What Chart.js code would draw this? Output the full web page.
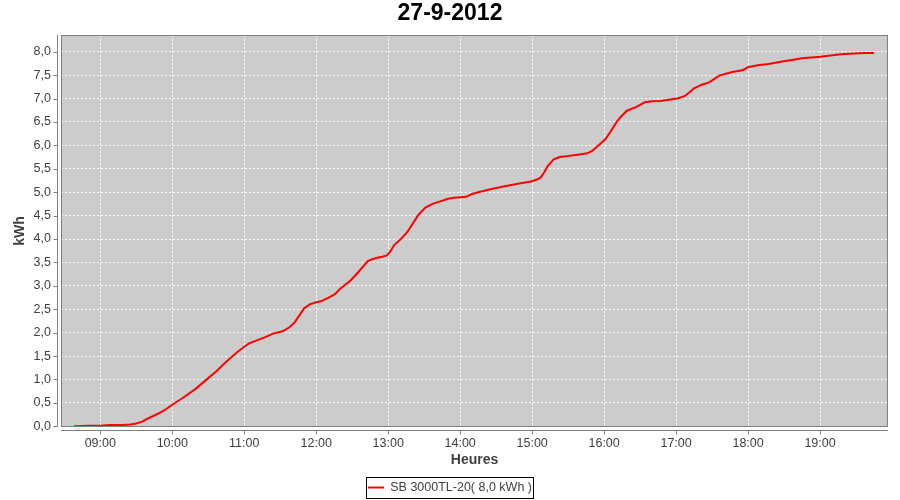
<!DOCTYPE html>
<html>
<head>
<meta charset="utf-8">
<script src="https://cdn.jsdelivr.net/npm/chart.js@4.4.0/dist/chart.umd.min.js"></script>
<style>
  html, body { margin: 0; padding: 0; background: #fff; }
</style>
</head>
<body>
<canvas id="chart" width="900" height="500"></canvas>
<script>
// chart text
const chartTitle = "27-9-2012";
const seriesName = "SB 3000TL-20( 8,0 kWh )";
const xTitle = "Heures";
const yTitle = "kWh";

// readings (time of day, cumulative kWh)
const times = [
  "08:38", "08:50", "09:00", "09:08", "09:18", "09:25", "09:30", "09:35", "09:39", "09:45",
  "09:50", "09:55", "10:00", "10:09", "10:20", "10:31", "10:37", "10:43", "10:49", "10:54",
  "11:00", "11:04", "11:10", "11:17", "11:24", "11:32", "11:38", "11:42", "11:46", "11:50",
  "11:55", "12:00", "12:04", "12:12", "12:16", "12:20", "12:28", "12:35", "12:43", "12:49",
  "12:55", "12:59", "13:02", "13:05", "13:11", "13:16", "13:21", "13:25", "13:31", "13:37",
  "13:44", "13:50", "13:55", "14:05", "14:10", "14:15", "14:28", "14:34", "14:48", "14:59",
  "15:04", "15:07", "15:10", "15:13", "15:18", "15:23", "15:29", "15:38", "15:46", "15:50",
  "15:54", "16:01", "16:05", "16:08", "16:11", "16:14", "16:19", "16:27", "16:34", "16:40",
  "16:47", "16:55", "17:01", "17:07", "17:11", "17:15", "17:21", "17:28", "17:32", "17:36",
  "17:46", "17:56", "18:00", "18:08", "18:17", "18:24", "18:31", "18:38", "18:45", "19:00",
  "19:12", "19:20", "19:29", "19:37", "19:45"
];
const energy = [
  0.00, 0.01, 0.01, 0.03, 0.03, 0.04, 0.06, 0.10, 0.16, 0.23,
  0.29, 0.37, 0.46, 0.61, 0.81, 1.05, 1.18, 1.33, 1.47, 1.58,
  1.70, 1.77, 1.83, 1.90, 1.98, 2.03, 2.12, 2.22, 2.37, 2.52,
  2.61, 2.65, 2.67, 2.77, 2.83, 2.94, 3.10, 3.29, 3.53, 3.59,
  3.62, 3.65, 3.74, 3.87, 4.01, 4.15, 4.35, 4.51, 4.67, 4.75,
  4.81, 4.86, 4.88, 4.90, 4.96, 5.00, 5.08, 5.11, 5.18, 5.23,
  5.27, 5.31, 5.42, 5.56, 5.70, 5.75, 5.77, 5.80, 5.83, 5.88,
  5.97, 6.13, 6.28, 6.40, 6.52, 6.61, 6.74, 6.82, 6.92, 6.94,
  6.95, 6.98, 7.00, 7.05, 7.13, 7.22, 7.29, 7.35, 7.42, 7.49,
  7.56, 7.61, 7.67, 7.71, 7.74, 7.77, 7.80, 7.83, 7.86, 7.89,
  7.93, 7.95, 7.96, 7.97, 7.97
];

// axis ticks
const hourTicks = [9, 10, 11, 12, 13, 14, 15, 16, 17, 18, 19];
const kwhTicks = [0, 0.5, 1, 1.5, 2, 2.5, 3, 3.5, 4, 4.5, 5, 5.5, 6, 6.5, 7, 7.5, 8];

function toHours(t) {
  const parts = t.split(":");
  return Number(parts[0]) + Number(parts[1]) / 60;
}
function hourLabel(h) {
  return String(h).padStart(2, "0") + ":00";
}

const points = times.map((t, i) => ({ x: toHours(t), y: energy[i] }));

const FONT = "'Liberation Sans', Arial, sans-serif";
const AXIS_GRAY = "#808080";

// grey plot area, outline, and axes drawn a few px away from the plot (JFreeChart look)
const plotFrame = {
  id: "plotFrame",
  beforeDraw(chart) {
    const a = chart.chartArea;
    const ctx = chart.ctx;
    ctx.save();
    ctx.fillStyle = "#cccccc";
    ctx.fillRect(a.left, a.top, a.right - a.left, a.bottom - a.top);
    ctx.restore();
  },
  afterDraw(chart) {
    const a = chart.chartArea;
    const ctx = chart.ctx;
    const xs = chart.scales.x;
    const ys = chart.scales.y;
    ctx.save();
    ctx.strokeStyle = AXIS_GRAY;
    ctx.lineWidth = 1;
    ctx.strokeRect(a.left + 0.5, a.top + 0.5, a.right - a.left - 1, a.bottom - a.top - 1);

    // y axis
    const axX = a.left - 3.5;
    ctx.beginPath();
    ctx.moveTo(axX, a.top);
    ctx.lineTo(axX, a.bottom);
    kwhTicks.forEach(v => {
      const py = Math.round(ys.getPixelForValue(v)) + 0.5;
      ctx.moveTo(axX - 4, py);
      ctx.lineTo(axX, py);
    });
    // x axis
    const axY = a.bottom + 3.5;
    ctx.moveTo(a.left, axY);
    ctx.lineTo(a.right, axY);
    hourTicks.forEach(h => {
      const px = Math.round(xs.getPixelForValue(h)) + 0.5;
      ctx.moveTo(px, axY);
      ctx.lineTo(px, axY + 4);
    });
    ctx.stroke();

    // legend frame
    const hb = chart.legend.legendHitBoxes[0];
    if (hb) {
      const cy = hb.top + hb.height / 2;
      ctx.strokeStyle = "#000000";
      ctx.strokeRect(Math.round(hb.left - 2) + 0.5, Math.round(cy - 10.5) + 0.5,
        Math.round(hb.width + 3), 21);
    }
    ctx.restore();
  }
};

const gridOpts = {
  color: "rgba(255,255,255,0.9)",
  drawTicks: false,
  lineWidth: 1
};

new Chart(document.getElementById("chart"), {
  type: "line",
  data: {
    datasets: [{
      label: seriesName,
      data: points,
      borderColor: "#ff0000",
      backgroundColor: "#ff0000",
      borderWidth: 2,
      pointRadius: 0,
      tension: 0,
      fill: false
    }]
  },
  options: {
    responsive: false,
    animation: false,
    layout: { padding: { left: 12, right: 12, top: 0, bottom: 0 } },
    plugins: {
      title: {
        display: true,
        text: chartTitle,
        color: "#000000",
        font: { family: FONT, size: 23, weight: "bold", lineHeight: 1.2 },
        padding: { top: 0, bottom: 7.4 }
      },
      legend: {
        position: "bottom",
        maxHeight: 31.6,
        labels: {
          color: "#404040",
          font: { family: FONT, size: 12.5 },
          usePointStyle: true,
          pointStyle: "line",
          pointStyleWidth: 16,
          padding: 12.85
        }
      },
      tooltip: { enabled: false }
    },
    scales: {
      x: {
        type: "linear",
        min: 8.454,
        max: 19.944,
        afterBuildTicks: s => { s.ticks = hourTicks.map(v => ({ value: v })); },
        afterFit: s => { s.height = 41.4; },
        border: { display: false, dash: [2, 2] },
        grid: gridOpts,
        ticks: {
          color: "#404040",
          font: { family: FONT, size: 12.5 },
          padding: 9,
          maxRotation: 0,
          callback: v => hourLabel(v)
        },
        title: {
          display: true,
          text: xTitle,
          color: "#404040",
          font: { family: FONT, size: 14, weight: "bold", lineHeight: 1.2 },
          padding: 0
        }
      },
      y: {
        min: -0.015,
        max: 8.357,
        afterBuildTicks: s => { s.ticks = kwhTicks.map(v => ({ value: v })); },
        afterFit: s => { s.width = 49; },
        border: { display: false, dash: [2, 2] },
        grid: gridOpts,
        ticks: {
          color: "#404040",
          font: { family: FONT, size: 12.5 },
          padding: 10,
          callback: v => v.toFixed(1).replace(".", ",")
        },
        title: {
          display: true,
          text: yTitle,
          color: "#404040",
          font: { family: FONT, size: 14, weight: "bold", lineHeight: 1.2 },
          padding: 0
        }
      }
    }
  },
  plugins: [plotFrame]
});
</script>
</body>
</html>
